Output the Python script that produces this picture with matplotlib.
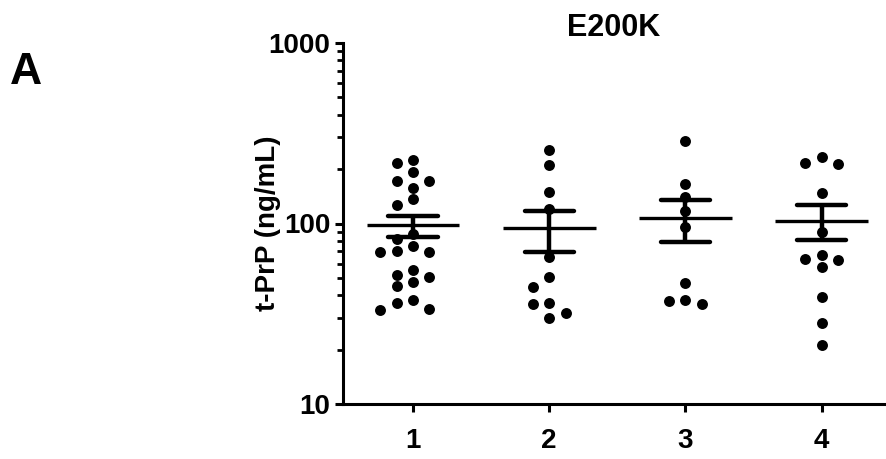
import matplotlib
matplotlib.use("Agg")
import matplotlib.pyplot as plt
import numpy as np

plt.rcParams['font.family'] = ['Liberation Sans', 'DejaVu Sans']
plt.rcParams['font.weight'] = 'bold'

# t-PrP per subject (ng/mL), four groups
groups = ['1', '2', '3', '4']
g1 = [226, 216, 192, 173, 172, 158, 136, 127, 88, 82, 75.5, 69.3, 69.3, 70.8,
      55.4, 52, 50.8, 47.3, 44.8, 37.8, 36.2, 33.6, 33]
g2 = [256, 212, 150, 121, 65, 50.4, 44.4, 35.6, 36.4, 31.9, 29.9]
g3 = [288, 166, 141, 117, 95.4, 46.9, 37.8, 35.9, 37]
g4 = [235, 214, 216, 147, 89.5, 66.6, 63.1, 57.2, 63.7, 39.1, 28.1, 21.1]
data = [g1, g2, g3, g4]


def swarm(vals, step=0.121, gap=0.062):
    # spread points sideways when they sit too close on the log scale
    order = np.argsort(vals)[::-1]
    logs = np.log10(vals)
    placed = {}
    offs = np.zeros(len(vals))
    slots = [0, -1, 1, -2, 2, -3, 3, -4, 4]
    for i in order:
        for s in slots:
            if all(abs(logs[i] - logs[j]) >= gap for j in placed.get(s, [])):
                placed.setdefault(s, []).append(i)
                offs[i] = s * step
                break
    return offs


fig = plt.figure(figsize=(8.87, 4.59), dpi=100)
ax = fig.add_axes([343 / 887, 1 - 404 / 459, (885 - 343) / 887, (404 - 43) / 459])

for k, vals in enumerate(data):
    x0 = k + 1
    vals = np.array(vals)
    ax.scatter(x0 + swarm(vals), vals, s=62, color='black', zorder=2, linewidths=0)
    m = vals.mean()
    sem = vals.std(ddof=1) / np.sqrt(len(vals))
    ax.hlines(m, x0 - 0.34, x0 + 0.34, color='black', lw=2.4, zorder=3)
    ax.hlines([m - sem, m + sem], x0 - 0.18, x0 + 0.18, color='black', lw=3.2,
              zorder=3, capstyle='round')
    ax.vlines(x0, m - sem, m + sem, color='black', lw=3.2, zorder=3)

ax.set_yscale('log')
ax.set_ylim(10, 1000)
ax.set_xlim(0.486, 4.465)
ax.set_xticks(range(1, 5))
ax.set_xticklabels(groups)
ax.set_yticks([10, 100, 1000])
ax.set_yticklabels(['10', '100', '1000'])
ax.yaxis.set_minor_locator(matplotlib.ticker.LogLocator(subs=np.arange(2, 10)))
ax.yaxis.set_minor_formatter(matplotlib.ticker.NullFormatter())

for side in ['top', 'right']:
    ax.spines[side].set_visible(False)
for side in ['left', 'bottom']:
    ax.spines[side].set_linewidth(2.2)

ax.tick_params(axis='both', which='major', length=6, width=2.2, labelsize=20, pad=3)
ax.tick_params(axis='x', pad=11)
ax.tick_params(axis='y', which='minor', length=4, width=2.0)

ax.set_ylabel('t-PrP (ng/mL)', fontsize=20, fontweight='bold')
ax.yaxis.set_label_coords(-0.115, 0.5)
ax.set_title('E200K', fontsize=22, fontweight='bold', pad=4)
fig.text(10 / 887, 1 - 72 / 459, 'A', fontsize=32, fontweight='bold', va='center')

fig.savefig('out.png', dpi=100)
